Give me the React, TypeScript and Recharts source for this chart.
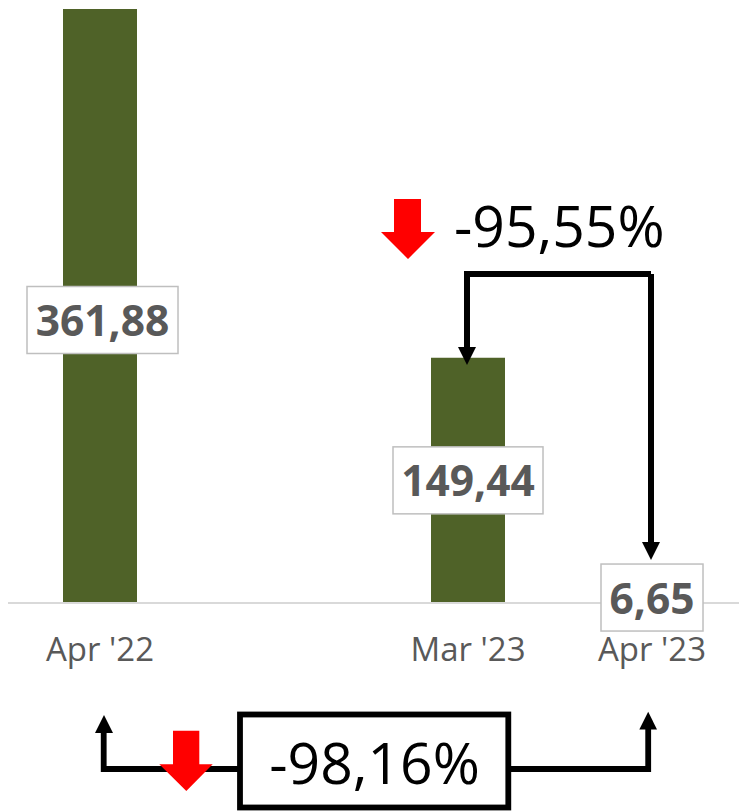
import { BarChart, Bar, XAxis, YAxis, LabelList } from "recharts";

const categories = ["Apr '22", "", "Mar '23", "Apr '23"];
const values = [361.88, null, 149.44, 6.65];
const changeMarch = "-95,55%";
const changeYear = "-98,16%";

const data = categories.map((month, i) => ({ month, value: values[i] }));

const FONT = "'Open Sans', sans-serif";
const labelWidths = [151, 0, 150, 102];
const labelNudge = [{ dx: 2.5, dy: 14 }, { dx: 0, dy: 0 }, { dx: 0, dy: 0 }, { dx: 0, dy: 0 }];

function ValueLabel(props: any) {
  const { x, y, width, height, value } = props;
  if (value == null) return null;
  // LabelList skips the empty category, so look the slot up by value
  const slot = values.indexOf(Number(value));
  const cx = Number(x) + Number(width) / 2 + labelNudge[slot].dx;
  const cy = Number(y) + Number(height) / 2 + labelNudge[slot].dy;
  const w = labelWidths[slot];
  return (
    <g>
      <rect x={cx - w / 2} y={cy - 33.5} width={w} height={67} fill="#fff" stroke="#bfbfbf" strokeWidth={1.5} />
      <text x={cx} y={cy + 16} textAnchor="middle" fontFamily={FONT} fontSize={42.5} fontWeight={700} fill="#595959">
        {Number(value).toFixed(2).replace(".", ",")}
      </text>
    </g>
  );
}

function Annotations() {
  return (
    <svg width={739} height={811} style={{ position: "absolute", left: 0, top: 0 }}>
      {/* top connector */}
      <path d="M651 274H467V350" fill="none" stroke="#000" strokeWidth={6} />
      <path d="M651 274V545" fill="none" stroke="#000" strokeWidth={6} />
      <polygon points="458,347 476,347 467,365" fill="#000" />
      <polygon points="642,542 660,542 651,560" fill="#000" />
      <polygon points="394,199 421,199 421,232 435,232 408,259 381,232 394,232" fill="#ff0000" />
      <text x={454} y={246.5} fontFamily={FONT} fontSize={57} fill="#000">{changeMarch}</text>

      {/* bottom connector */}
      <path d="M103.7 730V769H240" fill="none" stroke="#000" strokeWidth={5.8} />
      <path d="M508 769H648.2V727" fill="none" stroke="#000" strokeWidth={5.8} />
      <polygon points="95,733 113,733 104,715" fill="#000" />
      <polygon points="639.3,729.5 657,729.5 648.2,711.7" fill="#000" />
      <polygon points="173,730.7 199.3,730.7 199.3,764.3 212.7,764.3 186.3,791 159.3,764.3 173,764.3" fill="#ff0000" />
      <rect x={240} y={714.5} width={268.3} height={93} fill="#fff" stroke="#000" strokeWidth={5.8} />
      <text x={374.5} y={784} textAnchor="middle" fontFamily={FONT} fontSize={57} fill="#000">{changeYear}</text>
    </svg>
  );
}

export default function App() {
  return (
    <div style={{ position: "absolute", left: 0, top: 0, width: 739, height: 811, overflow: "hidden", background: "#fff" }}>
      <BarChart width={744} height={811} data={data} margin={{ top: 9, right: 0, bottom: 148, left: 8 }}>
        <XAxis
          dataKey="month"
          height={60}
          interval={0}
          tickLine={false}
          tickMargin={29}
          stroke="#d9d9d9"
          strokeWidth={2}
          tick={{ fontFamily: FONT, fontSize: 33, fill: "#595959" }}
        />
        <YAxis hide domain={[0, 361.88]} />
        <Bar dataKey="value" fill="#4f6228" barSize={74} isAnimationActive={false}>
          <LabelList dataKey="value" content={ValueLabel} />
        </Bar>
      </BarChart>
      <Annotations />
    </div>
  );
}
